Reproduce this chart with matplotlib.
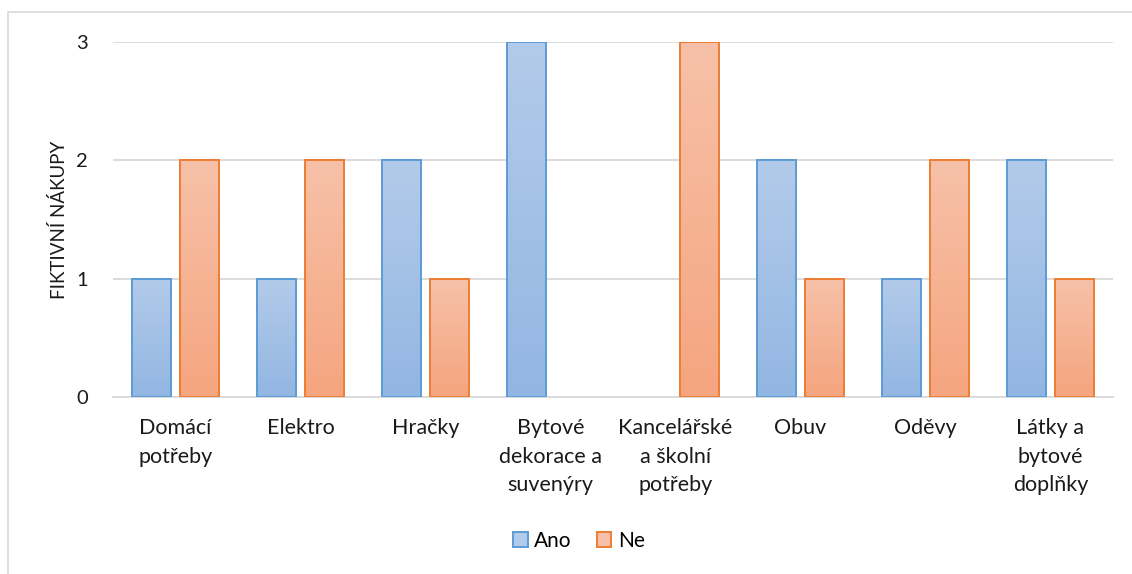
import numpy as np
import matplotlib
matplotlib.use("Agg")
import matplotlib.pyplot as plt
from matplotlib.patches import Rectangle, Patch
from matplotlib.colors import LinearSegmentedColormap

plt.rcParams['font.family'] = ['Lato', 'DejaVu Sans']

categories = ["Domácí\npotřeby", "Elektro", "Hračky", "Bytové\ndekorace a\nsuvenýry",
              "Kancelářské\na školní\npotřeby", "Obuv", "Oděvy", "Látky a\nbytové\ndoplňky"]
ano = [1, 1, 2, 3, 0, 2, 1, 2]
ne = [2, 2, 1, 0, 3, 1, 2, 1]
series_names = ["Ano", "Ne"]
y_ticks = [0, 1, 2, 3]
y_label = "FIKTIVNÍ NÁKUPY"

edge_colors = ["#5b9bd5", "#ed7d31"]
grad_top = ["#b3cbea", "#f7c1a9"]
grad_bottom = ["#92b6e2", "#f5a57f"]

W, H = 1132, 574
fig = plt.figure(figsize=(W / 100, H / 100), dpi=100)
ax = fig.add_axes([113 / W, 1 - 397 / H, 1000 / W, 355 / H])

x = np.arange(len(categories))
width = 0.31
offset = 0.19

def gradient_bars(ax, xs, vals, top, bottom, edge):
    cmap = LinearSegmentedColormap.from_list("g", [bottom, top])
    grad = np.linspace(0, 1, 256).reshape(-1, 1)
    bars = ax.bar(xs, vals, width, facecolor="none", edgecolor=edge, linewidth=1.4, zorder=3)
    for b in bars:
        h = b.get_height()
        if h <= 0:
            b.set_visible(False)
            continue
        x0, w = b.get_x(), b.get_width()
        im = ax.imshow(grad, cmap=cmap, origin="lower", aspect="auto",
                       extent=[x0, x0 + w, 0, h], zorder=2, interpolation="bilinear")
        im.set_clip_path(b)
    return bars

gradient_bars(ax, x - offset, ano, grad_top[0], grad_bottom[0], edge_colors[0])
gradient_bars(ax, x + offset, ne, grad_top[1], grad_bottom[1], edge_colors[1])

ax.set_xlim(-0.5, len(categories) - 0.5)
ax.set_ylim(0, 3)
ax.set_yticks(y_ticks)
ax.set_xticks(x)
ax.set_xticklabels(categories, fontsize=15.5, linespacing=1.55, color="#1a1a1a")
ax.tick_params(axis="x", length=0, pad=15)
ax.tick_params(axis="y", length=0, pad=18, labelsize=14.5, labelcolor="#1a1a1a")
ax.yaxis.grid(True, color="#d9d9d9", linewidth=1.3, zorder=0)
ax.set_axisbelow(True)
for s in ["top", "right", "left"]:
    ax.spines[s].set_visible(False)
ax.spines["bottom"].set_color("#d9d9d9")
ax.spines["bottom"].set_linewidth(1.3)
ax.set_ylabel(y_label, fontsize=13.5, color="#1a1a1a", labelpad=6)

handles = [Patch(facecolor=grad_top[i], edgecolor=edge_colors[i], linewidth=1.4, label=series_names[i])
           for i in range(2)]
fig.legend(handles=handles, loc="center", bbox_to_anchor=(579 / W, 1 - 541 / H), ncol=2,
           frameon=False, fontsize=15, handlelength=0.7, handleheight=0.7,
           handletextpad=0.3, columnspacing=1.2)

# outer chart frame
fig.patches.append(Rectangle((8 / W, -0.1), 1.2, 1.1 - 12 / H, transform=fig.transFigure,
                             fill=False, edgecolor="#d9d9d9", linewidth=1.2, zorder=0))

fig.savefig("out.png", dpi=100)
